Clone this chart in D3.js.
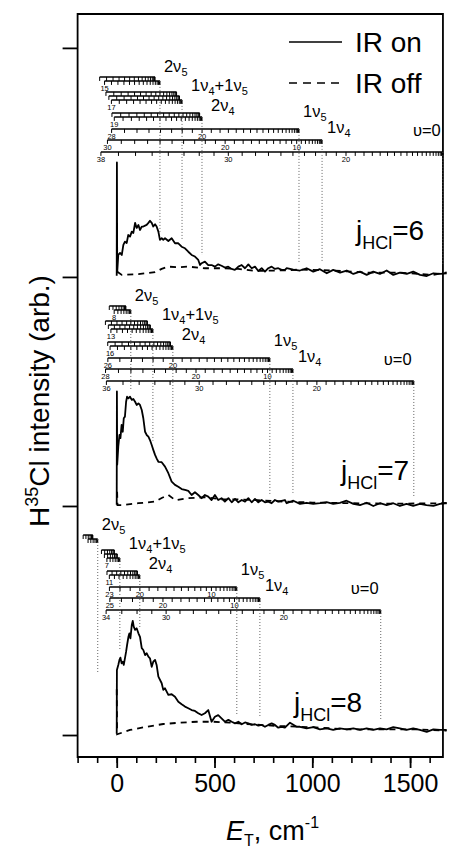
<!DOCTYPE html>
<html>
<head>
<meta charset="utf-8">
<script src="https://cdn.jsdelivr.net/npm/d3@7"></script>
<style>
  body { margin: 0; background: #fff; }
  text { font-family: "Liberation Sans", Arial, Helvetica, sans-serif; fill: #000; }
</style>
</head>
<body>
<div id="chart"></div>
<script>
// ---- data ----
const jHCl = ["6", "7", "8"];
const panelOffset = [200, 100, 0];           // vertical offset of each spectrum (arb.)
const ladderEnd = [1668, 1519, 1350];        // E_T of v=0, J=0 level in each panel (cm-1)
const ROT_B = 1.18;                          // rotational constant of the ladders (cm-1)
const vibNames = ["v=0", "1v4", "1v5", "2v4", "1v4+1v5", "2v5"];
const vibEnergy = [[0], [618], [736], [1244, 1232], [1362, 1347, 1334], [1472, 1447]];
const jMax = [
  [38, 30, 28, 19, 17, 15],
  [36, 28, 26, 16, 13, 8],
  [34, 25, 23, 11, 7, 6]
];
const jLabels = [
  [[38, 30, 20], [30, 20, 10], [28, 20], [19], [17], [15]],
  [[36, 30, 20], [28, 20, 10], [26, 20], [16], [13], [8]],
  [[34, 30, 20], [25, 20, 10], [23, 20, 10], [11], [7], []]
];
const xMajorTicks = [0, 500, 1000, 1500];
const xMinorTicks = [-200, -100, 0, 100, 200, 300, 400, 500, 600, 700, 800, 900, 1000, 1100, 1200, 1300, 1400, 1500, 1600];
const yTicks = [0, 100, 200, 300];

// IR on / IR off spectra, [E_T, intensity]
const onJ6 = [[0,0.5],[1,50],[2.5,2],[8,9.6],[17,10.5],[26,9.6],[34,14],[42,15.4],[51,14.8],[59,18.3],[68,17.6],[77,19.8],[85,19.2],[94,23.6],[102,21.4],[111,22.7],[119,20.5],[128,22],[136,22],[145,22.4],[153,22.7],[162,23.6],[170,24.5],[179,23.6],[187,22],[196,23],[204,22],[213,19.8],[221,16.2],[230,16.9],[238,16.2],[247,16.9],[264,15.7],[281,16.9],[298,14.7],[315,14.7],[332,13.2],[349,12.5],[366,11],[383,9.6],[400,8.9],[417,7.4],[426,5.2],[434,6],[451,6.7],[468,5.2],[485,5.2],[502,4.5],[519,5.5],[536,4.9],[553,4.1],[570,4.5],[587,3.5],[604,3.1],[622,4.5],[639,5.2],[656,3.8],[673,5.5],[690,3.8],[707,4.5],[724,2.6],[741,3.8],[758,2.3],[775,3.8],[792,4.5],[809,3.5],[826,3.8],[843,3.1],[860,3.1],[869,3.8],[903,3.2],[937,2.8],[971,3.8],[1005,2.3],[1039,3.4],[1074,1.6],[1107,3.1],[1142,1.9],[1176,2.8],[1210,1.3],[1244,2.3],[1278,0.9],[1312,2.3],[1346,1.3],[1380,2.8],[1414,0.9],[1448,1.9],[1483,1.3],[1516,2.3],[1551,0.9],[1585,0.4],[1619,1.6],[1653,1.3],[1687,1.6]];
const offJ6 = [[3,2.3],[26,0.9],[111,1.2],[196,2.1],[230,3.5],[264,4.5],[315,4.2],[366,4.5],[451,3.8],[536,3.8],[621,3.5],[707,2.6],[860,2.9],[937,3.2],[1107,2.8],[1278,1.9],[1448,1.9],[1619,0.9],[1687,2]];
const onJ7 = [[0,0.5],[1,50],[2.5,18],[8,25.9],[14,31],[19,29.6],[25,35.4],[31,32.4],[36,38.3],[42,39],[48,45.5],[53,47.7],[60,47],[68,47.7],[77,46.3],[85,46.7],[94,45.5],[102,44.1],[111,44.8],[119,44.1],[128,41.9],[136,38.3],[145,32.4],[153,31],[162,30.3],[170,28.8],[179,26.6],[187,24.5],[196,22.3],[204,20.8],[213,19.3],[230,19.1],[247,17.2],[264,14.3],[281,10.6],[298,9.2],[315,8.4],[332,7.4],[349,7],[366,6.6],[383,4.8],[400,6],[417,4.8],[434,3.4],[451,4.8],[468,4.1],[485,2.6],[502,4.8],[519,2.6],[536,3.4],[553,1.9],[571,3.4],[588,1.6],[605,3.1],[622,1.6],[639,2.6],[656,1.9],[673,3.4],[690,1.6],[707,3.1],[724,1.6],[741,2.6],[758,1.6],[775,1.9],[792,1.2],[809,2.6],[826,1.9],[860,2.6],[869,1.2],[903,2.3],[937,0.9],[971,1.4],[1005,0.9],[1039,1.2],[1073,1.7],[1107,0.9],[1141,1.4],[1175,2.3],[1210,0.9],[1244,0.4],[1278,1.4],[1312,0],[1346,1.2],[1380,0.4],[1414,1.2],[1448,0],[1482,0.9],[1516,0],[1550,0.9],[1584,0.4],[1619,0],[1653,0.9],[1687,1.4]];
const offJ7 = [[2,6.2],[4,0.4],[25,0.4],[111,1.2],[196,1.9],[230,3.5],[264,4.8],[300,2.5],[366,3.4],[451,3.8],[536,2.9],[622,2.9],[707,2.6],[860,1.9],[1000,1.5],[1200,1.2],[1400,1],[1687,1.2]];
const onJ8 = [[0,0.5],[1,28.4],[8,30.6],[14,32.8],[19,33.8],[25,31.3],[31,32],[36,30.6],[42,33.5],[48,36.4],[53,39.3],[60,42.9],[65,44.4],[70,42.2],[77,48],[82,49.8],[87,47.3],[94,45.9],[102,46.6],[111,44.4],[119,42.9],[128,37.9],[136,37.1],[145,34.9],[153,35.7],[162,34.2],[170,33.5],[179,29.8],[187,32],[196,32.8],[204,30.6],[213,25.5],[230,22.6],[238,19.7],[247,20.4],[264,17.5],[281,17.8],[298,16.7],[315,14.5],[332,13.4],[349,12.4],[366,11.7],[383,10.9],[400,10.5],[417,9.5],[434,8.7],[451,9.5],[468,10.9],[485,5.8],[502,8],[519,8.7],[536,7.3],[553,5.8],[571,6.6],[588,5.8],[605,5.1],[622,5.8],[639,4.7],[656,5.5],[673,5.1],[690,4.4],[707,4.7],[724,4.1],[741,4.4],[758,3.6],[775,4.4],[792,5.1],[809,4.4],[826,3.2],[843,3.6],[860,3.2],[886,5.4],[920,3.6],[937,3.6],[971,2.9],[1005,3.4],[1039,2.5],[1073,2.9],[1107,2.2],[1141,2.9],[1176,2.5],[1210,2.9],[1244,2.2],[1278,2.9],[1312,2.2],[1346,2.9],[1380,2.5],[1414,3.4],[1448,2.9],[1482,2.2],[1516,2.9],[1550,2.2],[1585,1.4],[1619,2.5],[1653,2.2],[1687,2.2]];
const offJ8 = [[0,20],[2,0.3],[68,2.2],[153,3.6],[238,4.8],[324,5.4],[409,5.8],[494,5.8],[579,5.4],[664,4.8],[835,3.9],[1005,3.4],[1176,2.5],[1346,2.5],[1516,2.5],[1687,1.9]];

const spectraOn = [onJ6, onJ7, onJ8];
const spectraOff = [offJ6, offJ7, offJ8];

// ---- layout ----
const W = 449, H = 852;
const ladderDy = [[-125], [-137], [-148], [-164, -160], [-185, -181, -177], [-200, -196]];
const labelDx = [-30, 5, 4, 9, 9, 4];
const labelDy = [-141, -144, -160, -166, -186, -205];

const svg = d3.select("#chart").append("svg")
    .attr("width", W)
    .attr("height", H);

const x = d3.scaleLinear().domain([-200, 1700]).range([77.6, 449.2]);
const y = d3.scaleLinear().domain([-9.6, 314.8]).range([757, 14]);
const xRight = x(1668);

// frame
svg.append("path")
    .attr("d", `M${x(-200)},${y(-9.6)}V${y(314.8)}H${xRight}V${y(-9.6)}Z`)
    .attr("fill", "none")
    .attr("stroke", "#000")
    .attr("stroke-width", 1.8);

// x axis (minor + major)
svg.append("g")
    .attr("transform", `translate(0,${y(-9.6)})`)
    .call(d3.axisBottom(x).tickValues(xMinorTicks).tickSize(6).tickFormat(""))
    .call(g => g.select(".domain").remove())
    .call(g => g.selectAll("line").attr("stroke-width", 1.6));

svg.append("g")
    .attr("transform", `translate(0,${y(-9.6)})`)
    .call(d3.axisBottom(x).tickValues(xMajorTicks).tickSize(11).tickPadding(6).tickFormat(d3.format("d")))
    .call(g => g.select(".domain").remove())
    .call(g => g.selectAll("line").attr("stroke-width", 1.8))
    .call(g => g.selectAll("text")
        .attr("font-size", 25)
        .attr("font-family", '"Liberation Sans", Arial, sans-serif')
        .attr("fill", "#000"));

// y axis
svg.append("g")
    .attr("transform", `translate(${x(-200)},0)`)
    .call(d3.axisLeft(y).tickValues(yTicks).tickSize(15).tickFormat(""))
    .call(g => g.select(".domain").remove())
    .call(g => g.selectAll("line").attr("stroke-width", 1.8));

// axis titles
const xt = svg.append("text")
    .attr("x", 226)
    .attr("y", 840)
    .attr("font-size", 27);
xt.append("tspan").attr("font-style", "italic").text("E");
xt.append("tspan").attr("font-size", 16).attr("dy", 6).text("T");
xt.append("tspan").attr("dy", -6).text(", cm");
xt.append("tspan").attr("font-size", 16).attr("dy", -12).text("-1");

const yt = svg.append("text")
    .attr("transform", "translate(49,401) rotate(-90)")
    .attr("text-anchor", "middle")
    .attr("font-size", 28);
yt.append("tspan").text("H");
yt.append("tspan").attr("font-size", 18).attr("dy", -11).text("35");
yt.append("tspan").attr("dy", 11).text("Cl intensity (arb.)");

// interpolation of a spectrum, for where the dotted guide lines stop
function valueAt(data, e) {
  if (e < data[0][0] + 3) return null;
  for (let i = 1; i < data.length; i++) {
    if (data[i][0] >= e) {
      const [e0, v0] = data[i - 1], [e1, v1] = data[i];
      return v0 + (v1 - v0) * (e - e0) / (e1 - e0);
    }
  }
  return data[data.length - 1][1];
}

function vibLabel(g, name, xPos, yPos) {
  const t = g.append("text").attr("x", xPos).attr("y", yPos).attr("font-size", 16.5);
  const sub = (s) => t.append("tspan").attr("font-size", 11).attr("dy", 4).text(s);
  const up = (s) => t.append("tspan").attr("dy", -4).text(s);
  if (name === "v=0") { t.text("\u03c5=0"); return; }
  if (name === "1v4") { t.append("tspan").text("1\u03bd"); sub("4"); return; }
  if (name === "1v5") { t.append("tspan").text("1\u03bd"); sub("5"); return; }
  if (name === "2v4") { t.append("tspan").text("2\u03bd"); sub("4"); return; }
  if (name === "2v5") { t.append("tspan").text("2\u03bd"); sub("5"); return; }
  t.append("tspan").text("1\u03bd"); sub("4"); up("+1\u03bd"); sub("5");
}

const line = d3.line();

jHCl.forEach((jv, p) => {
  const base = y(panelOffset[p]);
  const g = svg.append("g");
  const on = spectraOn[p];

  // rotational ladders for each product vibrational state
  vibNames.forEach((name, k) => {
    const ends = vibEnergy[k].map(v => ladderEnd[p] - v);
    const Jm = jMax[p][k];
    ends.forEach((eEnd, s) => {
      const ly = base + ladderDy[k][s];
      const eMin = eEnd - ROT_B * Jm * (Jm + 1);
      g.append("line")
          .attr("x1", x(eMin)).attr("x2", x(eEnd))
          .attr("y1", ly).attr("y2", ly)
          .attr("stroke", "#000").attr("stroke-width", 1.5);
      const levels = d3.range(0, Jm + 1).map(J => eEnd - ROT_B * J * (J + 1));
      g.selectAll(null)
          .data(levels)
          .join("line")
          .attr("x1", e => x(e)).attr("x2", e => x(e))
          .attr("y1", ly).attr("y2", ly + 4)
          .attr("stroke", "#000").attr("stroke-width", 1);
      if (s === ends.length - 1) {
        g.selectAll(null)
            .data(jLabels[p][k])
            .join("text")
            .attr("x", J => x(eEnd - ROT_B * J * (J + 1)))
            .attr("y", ly + 10)
            .attr("text-anchor", "middle")
            .attr("font-size", 7.5)
            .attr("fill", "#222")
            .text(J => J);
      }
    });

    // dotted guide line from the J=0 end of the ladder down to the spectrum
    const eTop = d3.max(ends);
    const startY = base + d3.max(ladderDy[k]);
    const v = valueAt(on, eTop);
    const endY = v === null ? y(panelOffset[p] + 27.5) : y(panelOffset[p] + v) - 8;
    g.append("line")
        .attr("x1", x(eTop)).attr("x2", x(eTop))
        .attr("y1", startY).attr("y2", endY)
        .attr("stroke", "#555").attr("stroke-width", 0.9)
        .attr("stroke-dasharray", "1,2");

    vibLabel(g, name, x(eTop) + labelDx[k], base + labelDy[k]);
  });

  // spectra
  g.append("path")
      .attr("d", line(spectraOff[p].map(d => [x(d[0]), y(panelOffset[p] + d[1])])))
      .attr("fill", "none").attr("stroke", "#000").attr("stroke-width", 1.8)
      .attr("stroke-dasharray", "6,5");
  g.append("path")
      .attr("d", line(on.map(d => [x(d[0]), y(panelOffset[p] + d[1])])))
      .attr("fill", "none").attr("stroke", "#000").attr("stroke-width", 1.8)
      .attr("stroke-linejoin", "round");
});

// j_HCl labels
const jPos = [[356, 240], [341, 480], [294, 712]];
jHCl.forEach((jv, p) => {
  const t = svg.append("text")
      .attr("x", jPos[p][0]).attr("y", jPos[p][1])
      .attr("font-size", 28);
  t.append("tspan").text("j");
  t.append("tspan").attr("font-size", 18).attr("dy", 9).text("HCl");
  t.append("tspan").attr("dy", -9).text("=" + jv);
});

// legend
const legend = svg.append("g");
[["IR on", null, 42], ["IR off", "8,6", 83]].forEach(([label, dash, ly]) => {
  legend.append("line")
      .attr("x1", 289).attr("x2", 342)
      .attr("y1", ly).attr("y2", ly)
      .attr("stroke", "#000").attr("stroke-width", 1.5)
      .attr("stroke-dasharray", dash);
  legend.append("text")
      .attr("x", 355).attr("y", ly + 10)
      .attr("font-size", 28)
      .text(label);
});
</script>
</body>
</html>
